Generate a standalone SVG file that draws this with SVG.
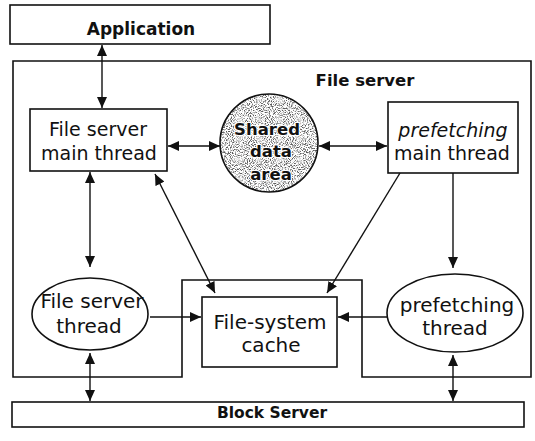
<svg xmlns="http://www.w3.org/2000/svg" width="535" height="441" viewBox="0 0 535 441">
  <style>
    .box { fill: #fff; stroke: #111; stroke-width: 1.6; }
    .frame { fill: none; stroke: #111; stroke-width: 1.6; }
    .lbl { font-family: "DejaVu Sans", "Liberation Sans", sans-serif; font-size: 19px; fill: #111; text-anchor: middle; }
    .big { font-size: 20px; }
    .bold { font-family: "DejaVu Sans", "Liberation Sans", sans-serif; font-weight: bold; fill: #111; text-anchor: middle; }
    .it { font-style: italic; }
    .wire { fill: none; stroke: #111; stroke-width: 1.4; }
    .both { marker-start: url(#head); marker-end: url(#head); }
    .one { marker-end: url(#head); }
  </style>
  <defs>
    <marker id="head" viewBox="0 0 11 10" refX="11" refY="5" markerWidth="11" markerHeight="10" markerUnits="userSpaceOnUse" orient="auto-start-reverse">
      <path d="M0,0 L11,5 L0,10 z" fill="#111"/>
    </marker>
    <!-- speckled texture for the shared area disc -->
    <filter id="grain" x="0" y="0" width="100%" height="100%">
      <feTurbulence type="fractalNoise" baseFrequency="0.95" numOctaves="2" seed="7" result="noise"/>
      <feColorMatrix in="noise" type="matrix" values="0 0 0 0 0.1  0 0 0 0 0.1  0 0 0 0 0.1  -4 0 0 0 2.18" result="dots"/>
      <feComposite in="dots" in2="SourceGraphic" operator="in"/>
    </filter>
  </defs>

  <rect width="535" height="441" fill="#fff"/>

  <!-- File server enclosure with a notch around the cache -->
  <g id="file-server">
    <path class="frame" d="M13,61 H531 V377 H362 V280 H182 V377 H13 Z"/>
    <text class="bold" x="365" y="86" font-size="16.5">File server</text>
  </g>

  <g id="application">
    <rect class="box" x="10" y="5" width="260" height="39"/>
    <text class="bold" x="141" y="35" font-size="17">Application</text>
  </g>

  <g id="fs-main-thread">
    <rect class="box" x="30" y="109" width="137" height="62"/>
    <text class="lbl" x="98" y="136">File server</text>
    <text class="lbl" x="99" y="160">main thread</text>
  </g>

  <g id="shared-data-area">
    <circle cx="269" cy="143" r="49" fill="#fff"/>
    <circle cx="269" cy="143" r="49" fill="#000" filter="url(#grain)"/>
    <circle cx="269" cy="143" r="49" fill="none" stroke="#111" stroke-width="1.6"/>
    <g class="bold" font-size="16.5" stroke="#fff" stroke-width="2.2" paint-order="stroke">
      <text x="267" y="135">Shared</text>
      <text x="271" y="157">data</text>
      <text x="271" y="180">area</text>
    </g>
  </g>

  <g id="pf-main-thread">
    <rect class="box" x="388" y="102" width="130" height="71"/>
    <text class="lbl it" x="453" y="137">prefetching</text>
    <text class="lbl" x="452" y="160">main thread</text>
  </g>

  <g id="fs-thread">
    <ellipse class="box" cx="90" cy="314" rx="58" ry="36"/>
    <text class="lbl big" x="92" y="308">File server</text>
    <text class="lbl big" x="89" y="333">thread</text>
  </g>

  <g id="cache">
    <rect class="box" x="202" y="297" width="135" height="70"/>
    <text class="lbl big" x="270" y="329">File-system</text>
    <text class="lbl big" x="271" y="352">cache</text>
  </g>

  <g id="pf-thread">
    <ellipse class="box" cx="455" cy="313" rx="68" ry="39"/>
    <text class="lbl big" x="457" y="312">prefetching</text>
    <text class="lbl big" x="455" y="335">thread</text>
  </g>

  <g id="block-server">
    <rect class="box" x="12" y="402" width="512" height="25"/>
    <text class="bold" x="272" y="418" font-size="15.5">Block Server</text>
  </g>

  <g id="connectors">
    <line class="wire both" x1="102" y1="45" x2="102" y2="108"/>
    <line class="wire both" x1="168" y1="146" x2="220" y2="146"/>
    <line class="wire both" x1="319" y1="146" x2="387" y2="146"/>
    <line class="wire both" x1="90" y1="172" x2="90" y2="267"/>
    <line class="wire one" x1="453" y1="173" x2="453" y2="268"/>
    <line class="wire both" x1="155" y1="174" x2="215" y2="293"/>
    <line class="wire one" x1="400" y1="173" x2="327" y2="293"/>
    <line class="wire one" x1="150" y1="317" x2="201" y2="317"/>
    <line class="wire one" x1="387" y1="317" x2="338" y2="317"/>
    <line class="wire both" x1="90" y1="353" x2="90" y2="401"/>
    <line class="wire both" x1="453" y1="355" x2="453" y2="401"/>
  </g>
</svg>
